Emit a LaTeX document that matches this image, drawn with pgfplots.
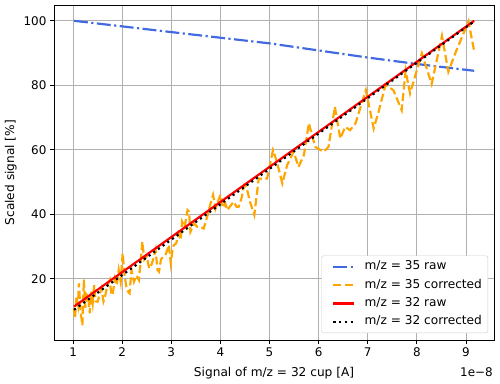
\documentclass[border=0pt]{standalone}
\usepackage{fontspec}
\setmainfont{DejaVu Sans}
\usepackage{pgfplots}
\pgfplotsset{compat=1.18}
\definecolor{mplBlue}{HTML}{4169E1}
\definecolor{mplOrange}{HTML}{FFA500}
\definecolor{mplGrid}{HTML}{B0B0B0}
\begin{document}
\begin{tikzpicture}
\begin{axis}[
  name=ax,
  width=405.5pt, height=308.5pt, scale only axis,
  xmin=0.613, xmax=9.57, ymin=1.0, ymax=104.8,
  xtick={1,2,3,4,5,6,7,8,9}, ytick={20,40,60,80,100},
  xtick pos=lower, ytick pos=left,
  tick align=outside, major tick length=3.5pt,
  every tick/.style={black, line width=0.8pt},
  axis line style={line width=0.8pt},
  grid=major, major grid style={mplGrid, line width=0.8pt},
  /pgf/number format/assume math mode=true,
  tick label style={font=\fontsize{11}{13}\selectfont},
  label style={font=\fontsize{11.2}{13}\selectfont},
  xlabel={Signal of m/z = 32 cup [A]},
  ylabel={Scaled signal [\%]},
  xlabel style={at={(axis description cs:0.5,-0.1076)}, anchor=base},
  ylabel style={at={(axis description cs:-0.0986,0.5)}, anchor=center},
  legend cell align=left,
  legend image code/.code={\path (-4.5pt,0pt); \draw[#1] (0pt,0pt) -- (18.5pt,0pt); \path (27.7pt,0pt);},
  legend style={at={(1,0)}, anchor=south east, xshift=-5.5pt, yshift=6.5pt,
    draw=black!20, rounded corners=2pt, font=\fontsize{11.2}{13}\selectfont,
    row sep=6pt, inner xsep=5.5pt, inner ysep=4.7pt,
    nodes={inner sep=0pt, text height=8.3pt, text depth=2.6pt}},
]
\addplot[mplBlue, line width=2pt, dash pattern=on 12.8pt off 3.2pt on 2pt off 3.2pt] coordinates {
(1.02,100) (3,96.5) (5,93.0) (7,88.6) (8,86.6) (9.165,84.5)};
\addlegendentry{m/z = 35 raw}
\addplot[mplOrange, line width=2pt, dash pattern=on 7.4pt off 3.2pt] coordinates {
(1.02,10.8) (1.04,7.7) (1.07,14.5) (1.10,12) (1.12,18.6) (1.15,10.3) (1.19,5.6) (1.22,19.8)
(1.25,11) (1.28,15) (1.31,14.4) (1.34,9.3) (1.37,16) (1.40,12.5) (1.43,18.0) (1.46,13)
(1.50,12.9) (1.54,15) (1.58,17.0) (1.62,13) (1.65,14.4) (1.70,18) (1.75,19.6) (1.78,14.9)
(1.81,15.5) (1.85,20) (1.89,18) (1.93,22.7) (1.97,19.1) (2.01,27.9) (2.05,21) (2.09,17)
(2.12,16.0) (2.15,15.5) (2.19,22.7) (2.24,19.1) (2.29,21) (2.34,19.6) (2.38,26) (2.41,31.5)
(2.45,26) (2.50,27) (2.55,23.2) (2.60,24.5) (2.65,27) (2.68,28.9) (2.72,22.7) (2.75,22.2)
(2.79,26) (2.83,26.8) (2.88,27.3) (2.92,29) (2.95,30.5) (2.99,24.8) (3.02,28.4) (3.05,30.4)
(3.10,31) (3.15,34) (3.19,32.0) (3.22,37.7) (3.27,36) (3.33,41.3) (3.36,40.8) (3.39,34.6)
(3.43,36) (3.46,37.2) (3.53,36.1) (3.60,36) (3.66,35.6) (3.73,39.2) (3.80,43.4) (3.85,46)
(3.90,41.8) (3.95,44) (4.00,46) (4.05,42) (4.10,43.4) (4.14,41.3) (4.20,42.5) (4.27,43.9)
(4.33,42.3) (4.37,42.3) (4.43,45) (4.48,49) (4.53,48.5) (4.60,44) (4.69,39.8) (4.78,51.1)
(4.87,51) (4.95,51.1) (5.07,59.9) (5.15,56.3) (5.26,49.6) (5.36,55.3) (5.49,59.4) (5.59,54.7)
(5.70,58.4) (5.80,68.2) (5.93,60.9) (6.10,59.4) (6.20,60.9) (6.33,73.3) (6.44,63.5) (6.54,67.1)
(6.64,66.1) (6.75,68.2) (6.96,78.5) (7.12,66.6) (7.22,71.8) (7.36,80.1) (7.52,78.5) (7.69,72.3)
(7.77,84.5) (7.86,77.5) (8.10,89.9) (8.30,80.4) (8.51,95.3) (8.64,84.2) (8.78,89.9) (9.05,99.8)
(9.16,91)};
\addlegendentry{m/z = 35 corrected}
\addplot[red, line width=2pt] coordinates {(1.02,11.4) (9.165,100)};
\addlegendentry{m/z = 32 raw}
\addplot[black, line width=2pt, dash pattern=on 2pt off 3.3pt] coordinates {(1.02,10.4) (9.165,99.8)};
\addlegendentry{m/z = 32 corrected}
\end{axis}
\node[anchor=base east, inner sep=0pt, font=\fontsize{11}{13}\selectfont] at ([yshift=-33.2pt,xshift=-1pt]ax.south east) {1e−8};
\pgfresetboundingbox
\path[use as bounding box] ([xshift=-49.8pt,yshift=-39.6pt]ax.south west) rectangle ([xshift=5.5pt,yshift=4.9pt]ax.north east);
\end{tikzpicture}
\end{document}
